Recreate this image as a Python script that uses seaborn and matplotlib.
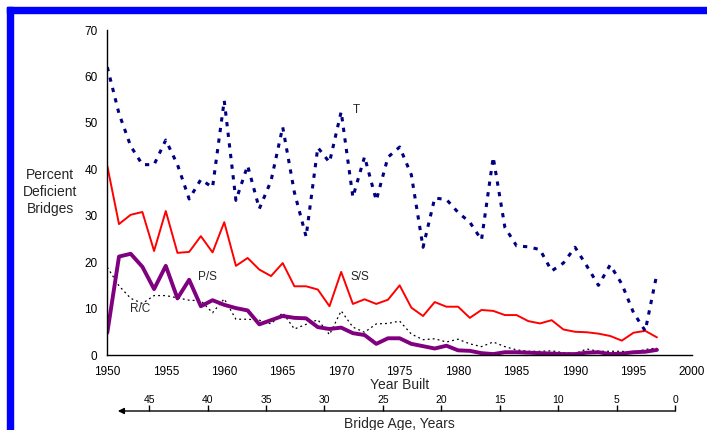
import numpy as np
import pandas as pd
import matplotlib
matplotlib.use("Agg")
import matplotlib.pyplot as plt
from matplotlib.patches import Rectangle
import seaborn as sns

years = list(range(1950, 1998))

t_vals = [62, 52, 45, 41, 41, 46.3, 41, 33.6, 37.8, 36.1, 54.8, 33.3, 40.8, 31.5, 37.5, 49.1,
          35, 25.5, 44.7, 41.5, 52.4, 34, 42.7, 33.3, 42.6, 44.8, 38.8, 23.2, 33.8, 33.5,
          30.7, 28.6, 24.8, 42.6, 27.5, 23.5, 23.3, 22.7, 18.1, 19.8, 23.2, 19.2, 15.0, 19.4,
          15.3, 9.1, 5.2, 17.5]
ss_vals = [40.7, 28.2, 30.2, 30.8, 22.4, 31.0, 22.0, 22.2, 25.6, 22.1, 28.6, 19.2, 20.9, 18.4,
           17.0, 19.8, 14.8, 14.8, 14.1, 10.5, 17.9, 11.0, 12.0, 11.0, 11.9, 15.0, 10.2, 8.4,
           11.4, 10.4, 10.4, 8.0, 9.7, 9.5, 8.6, 8.6, 7.3, 6.8, 7.5, 5.5, 5.0, 4.9, 4.6, 4.1,
           3.1, 4.8, 5.2, 3.8]
ps_vals = [4.8, 21.2, 21.8, 19.0, 14.2, 19.2, 12.2, 16.2, 10.5, 11.8, 10.8, 10.1, 9.6, 6.6,
           7.5, 8.4, 8.0, 7.9, 6.0, 5.6, 5.9, 4.7, 4.3, 2.4, 3.6, 3.6, 2.4, 1.9, 1.4, 2.0, 1.0,
           0.9, 0.4, 0.2, 0.6, 0.6, 0.5, 0.4, 0.3, 0.2, 0.2, 0.5, 0.6, 0.2, 0.3, 0.6, 0.7, 1.1]
rc_vals = [18.9, 14.9, 12.2, 11.1, 12.8, 12.8, 12.3, 11.8, 11.7, 9.1, 12.1, 7.7, 7.7, 7.5,
           6.7, 9.1, 5.6, 6.6, 7.6, 4.4, 9.5, 6.0, 4.9, 6.7, 6.8, 7.3, 4.5, 3.3, 3.5, 2.8,
           3.4, 2.4, 1.8, 2.8, 1.8, 1.1, 0.8, 0.8, 0.9, 0.5, 0.3, 1.3, 0.8, 0.8, 0.8, 0.5,
           1.2, 1.5]

age_ticks = [45, 40, 35, 30, 25, 20, 15, 10, 5, 0]
age_zero_year = 1998.57

sns.set_style("white")
plt.rcParams["font.family"] = ["Liberation Sans", "DejaVu Sans"]

W, H = 707, 430
fig = plt.figure(figsize=(W / 100, H / 100), dpi=100)
ax = fig.add_axes([107.3 / W, 1 - 355 / H, (692 - 107.3) / W, (355 - 30) / H])

df = pd.DataFrame({"year": years, "T": t_vals, "S/S": ss_vals, "P/S": ps_vals, "R/C": rc_vals})

sns.lineplot(data=df, x="year", y="R/C", ax=ax, color="black", lw=0.9,
             linestyle=(0, (1.5, 2.5)))
sns.lineplot(data=df, x="year", y="S/S", ax=ax, color="#ff0000", lw=1.4)
sns.lineplot(data=df, x="year", y="P/S", ax=ax, color="#800080", lw=2.8)
sns.lineplot(data=df, x="year", y="T", ax=ax, color="#000080", lw=2.2,
             linestyle=(0, (1.4, 2.1)))

ax.set_xlim(1950, 2000)
ax.set_ylim(0, 70)
ax.set_xticks(range(1950, 2001, 5))
ax.set_yticks(range(0, 71, 10))
for s in ["top", "right"]:
    ax.spines[s].set_visible(False)
for s in ["left", "bottom"]:
    ax.spines[s].set_color("black")
    ax.spines[s].set_linewidth(1.0)
ax.tick_params(axis="x", direction="in", length=5, width=1, labelsize=8.5, pad=8, colors="black")
ax.tick_params(axis="y", direction="inout", length=6, width=1, labelsize=8.5, pad=4, colors="black")
ax.set_xlabel("")
ax.set_ylabel("")
fig.text(399.5 / W, 1 - 385 / H, "Year Built", ha="center", va="center", fontsize=10)
fig.text(50 / W, 1 - 192 / H, "Percent\nDeficient\nBridges", ha="center", va="center",
         fontsize=10, linespacing=1.25)

ax.text(1971.3, 52.7, "T", fontsize=8.5, ha="center", va="center")
ax.text(1971.6, 16.7, "S/S", fontsize=8.5, ha="center", va="center")
ax.text(1958.6, 16.7, "P/S", fontsize=8.5, ha="center", va="center")
ax.text(1952.8, 9.9, "R/C", fontsize=8.5, ha="center", va="center")

# age axis under the year axis
ax2 = fig.add_axes([107.3 / W, 1 - 411 / H, (692 - 107.3) / W, 0.0001])
ax2.set_xlim(1950, 2000)
ax2.set_ylim(0, 1)
for s in ax2.spines.values():
    s.set_visible(False)
ax2.set_yticks([])
ax2.set_xticks([age_zero_year - a for a in age_ticks])
ax2.set_xticklabels([str(a) for a in age_ticks])
ax2.xaxis.tick_top()
ax2.tick_params(axis="x", direction="out", length=4, width=1, labelsize=7.5, pad=0.5, colors="black")
ax2.annotate("", xy=(1950.9, 0), xytext=(age_zero_year, 0),
             arrowprops=dict(arrowstyle="-|>", color="black", lw=1, mutation_scale=9,
                             shrinkA=0, shrinkB=0))
fig.text(399.5 / W, 1 - 424 / H, "Bridge Age, Years", ha="center", va="center", fontsize=10)

# blue frame
fig.patches.append(Rectangle((7 / W, 1 - 13 / H), 1 - 7 / W, 6 / H, transform=fig.transFigure,
                             color="#0000ff", zorder=10))
fig.patches.append(Rectangle((7 / W, 0), 6 / W, 1 - 7 / H, transform=fig.transFigure,
                             color="#0000ff", zorder=10))

fig.savefig("out.png", dpi=100)
